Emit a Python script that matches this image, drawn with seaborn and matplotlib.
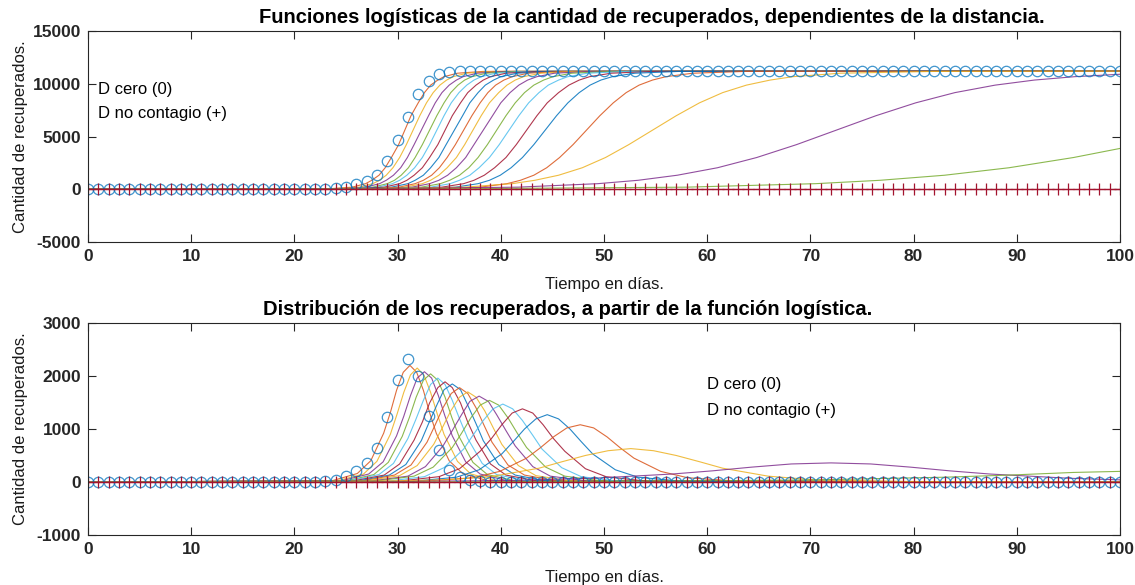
# Libraries
import matplotlib
matplotlib.use("Agg")
import seaborn as sns
import matplotlib.pyplot as plt

# -----------------------------------
# Configuration
# -----------------------------------
sns.set_theme(style="ticks")
plt.rcParams['font.family'] = ['Liberation Sans', 'DejaVu Sans']
plt.rcParams['axes.unicode_minus'] = False

# MATLAB default colour order
azul = (0.000, 0.447, 0.741)
naranja = (0.850, 0.325, 0.098)
amarillo = (0.929, 0.694, 0.125)
morado = (0.494, 0.184, 0.556)
verde = (0.466, 0.674, 0.188)
celeste = (0.301, 0.745, 0.933)
granate = (0.635, 0.078, 0.184)
orden_colores = [azul, naranja, amarillo, morado, verde, celeste, granate]

# -----------------------------------
# Data
# -----------------------------------
# Days sampled by the marker series
dias = list(range(101))

# D cero (0): recovered per day (top) and distribution (bottom)
dcero_sup = ([0] * 24 + [100, 250, 470, 790, 1360, 2650, 4640, 6890, 9000,
             10270, 10900, 11150] + [11200] * 65)
dcero_inf = ([0] * 23 + [20, 40, 110, 200, 350, 650, 1220, 1920, 2320, 2000,
             1250, 610, 230, 95, 40, 10] + [0] * 62)

# D no contagio (+): nobody recovers
dnocontagio = [0] * 101

# Logistic curves, top panel: day at which each curve reaches each level
niveles = [0, 30, 200, 530, 850, 1330, 2040, 3010, 4230, 5600, 6970, 8190,
           9160, 9870, 10350, 10670, 11000, 11170, 11200]
dias_sup = [
    [0, 23.1, 25.6, 26.9, 27.5, 28.2, 28.8, 29.4, 30.1, 30.7, 31.3, 32.0, 32.6, 33.2, 33.9, 34.5, 35.8, 38.3, 100],
    [0, 23.7, 26.3, 27.6, 28.25, 28.9, 29.55, 30.2, 30.85, 31.5, 32.15, 32.8, 33.45, 34.1, 34.75, 35.4, 36.7, 39.3, 100],
    [0, 24.2, 26.9, 28.25, 28.9, 29.6, 30.3, 30.95, 31.6, 32.3, 33.0, 33.65, 34.3, 35.0, 35.7, 36.35, 37.7, 40.4, 100],
    [0, 24.9, 27.6, 29.0, 29.7, 30.35, 31.05, 31.7, 32.4, 33.1, 33.8, 34.5, 35.15, 35.85, 36.5, 37.2, 38.6, 41.3, 100],
    [0, 25.2, 28.1, 29.5, 30.2, 30.9, 31.65, 32.4, 33.1, 33.8, 34.5, 35.2, 35.95, 36.7, 37.4, 38.1, 39.5, 42.4, 100],
    [0, 25.7, 28.7, 30.2, 30.9, 31.6, 32.4, 33.1, 33.9, 34.6, 35.3, 36.1, 36.8, 37.6, 38.3, 39.0, 40.5, 43.5, 100],
    [0, 26.4, 29.4, 31.0, 31.7, 32.5, 33.2, 34.0, 34.7, 35.5, 36.3, 37.0, 37.8, 38.5, 39.3, 40.0, 41.6, 44.6, 100],
    [0, 27.0, 30.15, 31.7, 32.5, 33.3, 34.05, 34.8, 35.6, 36.4, 37.2, 38.0, 38.75, 39.5, 40.3, 41.1, 42.65, 45.8, 100],
    [0, 27.5, 30.7, 32.4, 33.2, 34.0, 34.8, 35.7, 36.5, 37.3, 38.1, 38.9, 39.8, 40.6, 41.4, 42.2, 43.9, 47.1, 100],
    [0, 28.0, 31.4, 33.1, 34.0, 34.85, 35.7, 36.6, 37.4, 38.3, 39.2, 40.0, 40.9, 41.75, 42.6, 43.5, 45.2, 48.6, 100],
    [0, 28.7, 32.3, 34.15, 35.05, 36.0, 36.9, 37.8, 38.7, 39.6, 40.5, 41.4, 42.3, 43.2, 44.15, 45.05, 46.9, 50.5, 100],
    [0, 29.4, 33.2, 35.1, 36.0, 37.0, 37.9, 38.9, 39.85, 40.8, 41.75, 42.7, 43.7, 44.6, 45.6, 46.5, 48.4, 52.2, 100],
    [0, 30.3, 34.3, 36.4, 37.4, 38.4, 39.4, 40.5, 41.5, 42.5, 43.5, 44.5, 45.6, 46.6, 47.6, 48.6, 50.7, 54.7, 100],
    [0, 31.3, 35.6, 37.8, 38.9, 39.95, 41.0, 42.1, 43.2, 44.3, 45.4, 46.5, 47.6, 48.65, 49.7, 50.8, 53.0, 57.3, 100],
    [0, 32.9, 38.0, 40.6, 41.9, 43.2, 44.45, 45.7, 47.0, 48.3, 49.6, 50.9, 52.15, 53.4, 54.7, 56.0, 58.6, 63.7, 100],
    [0, 27.4, 36.5, 41.1, 43.3, 45.6, 47.9, 50.15, 52.4, 54.7, 57.0, 59.25, 61.5, 63.8, 66.1, 68.3, 72.9, 82.0, 100],
]
# The two slowest curves do not saturate before day 100
dias_sup_17 = [0, 26.3, 41.7, 49.4, 53.3, 57.1, 61.0, 64.8, 68.65, 72.5, 76.35, 80.2, 84.0, 87.9, 91.7, 95.6, 100]
niveles_17 = [0, 30, 200, 530, 850, 1330, 2040, 3010, 4230, 5600, 6970, 8190, 9160, 9870, 10350, 10670, 10900]
dias_sup_18 = [0, 33, 58, 70.5, 76.75, 83, 89.25, 95.5, 100]
niveles_18 = [0, 30, 200, 530, 850, 1330, 2040, 3010, 3870]

# Distribution curves, bottom panel
dias_inf = [
    [0, 23.6, 26.1, 27.4, 28.65, 29.3, 29.9, 30.55, 31.2, 31.85, 32.5, 33.1, 33.75, 35.0, 36.3, 38.8, 100],
    [0, 24.1, 26.7, 28.0, 29.3, 29.95, 30.6, 31.25, 31.9, 32.55, 33.2, 33.85, 34.5, 35.8, 37.1, 39.7, 100],
    [0, 24.5, 27.2, 28.6, 29.9, 30.6, 31.25, 31.9, 32.6, 33.3, 33.95, 34.6, 35.3, 36.6, 38.0, 40.7, 100],
    [0, 25.0, 27.7, 29.1, 30.45, 31.15, 31.8, 32.5, 33.2, 33.9, 34.6, 35.25, 35.95, 37.3, 38.7, 41.4, 100],
    [0, 25.3, 28.2, 29.6, 31.0, 31.75, 32.5, 33.2, 33.9, 34.6, 35.3, 36.05, 36.8, 38.2, 39.6, 42.5, 100],
    [0, 25.7, 28.7, 30.2, 31.6, 32.4, 33.1, 33.9, 34.6, 35.3, 36.1, 36.8, 37.6, 39.0, 40.5, 43.5, 100],
    [0, 26.2, 29.2, 30.8, 32.3, 33.0, 33.8, 34.5, 35.3, 36.1, 36.8, 37.6, 38.3, 39.8, 41.4, 44.4, 100],
    [0, 26.6, 29.7, 31.3, 32.85, 33.6, 34.4, 35.2, 36.0, 36.8, 37.6, 38.4, 39.15, 40.7, 42.3, 45.4, 100],
    [0, 26.9, 30.2, 31.9, 33.5, 34.3, 35.15, 36.0, 36.8, 37.6, 38.45, 39.3, 40.1, 41.7, 43.4, 46.7, 100],
    [0, 27.5, 31.0, 32.7, 34.4, 35.3, 36.2, 37.0, 37.9, 38.8, 39.6, 40.5, 41.4, 43.1, 44.8, 48.3, 100],
    [0, 28.0, 31.6, 33.45, 35.3, 36.2, 37.1, 38.0, 38.9, 39.8, 40.7, 41.6, 42.5, 44.35, 46.2, 49.8, 100],
    [0, 28.8, 32.6, 34.5, 36.4, 37.3, 38.3, 39.25, 40.2, 41.15, 42.1, 43.1, 44.0, 45.9, 47.8, 51.6, 100],
    [0, 29.9, 34.0, 36.0, 38.0, 39.1, 40.1, 41.1, 42.1, 43.1, 44.1, 45.1, 46.2, 48.2, 50.2, 54.3, 100],
    [0, 31.3, 35.7, 37.9, 40.1, 41.2, 42.3, 43.4, 44.5, 45.6, 46.7, 47.8, 48.9, 51.1, 53.3, 57.7, 100],
    [0, 32.1, 37.3, 39.9, 42.5, 43.8, 45.1, 46.4, 47.7, 49.0, 50.3, 51.6, 52.9, 55.5, 58.1, 63.3, 100],
    [0, 25.9, 34.8, 39.3, 43.7, 45.9, 48.2, 50.4, 52.6, 54.8, 57.0, 59.3, 61.5, 65.9, 70.4, 79.3, 100],
    [0, 25.9, 41.2, 48.9, 56.6, 60.5, 64.3, 68.15, 72.0, 75.85, 79.7, 83.5, 87.4, 95.1, 100],
    [0, 33, 58, 70.5, 83, 89.25, 95.5, 100],
]
rec_inf = [
    [0, 20, 160, 400, 920, 1310, 1730, 2070, 2200, 2070, 1730, 1310, 920, 400, 160, 20, 0],
    [0, 20, 150, 390, 900, 1280, 1690, 2020, 2150, 2020, 1690, 1280, 900, 390, 150, 20, 0],
    [0, 20, 150, 380, 870, 1240, 1630, 1960, 2080, 1960, 1630, 1240, 870, 380, 150, 20, 0],
    [0, 20, 140, 370, 860, 1220, 1600, 1920, 2040, 1920, 1600, 1220, 860, 370, 140, 20, 0],
    [0, 20, 140, 350, 820, 1170, 1540, 1840, 1960, 1840, 1540, 1170, 820, 350, 140, 20, 0],
    [0, 20, 130, 340, 790, 1130, 1490, 1780, 1890, 1780, 1490, 1130, 790, 340, 130, 20, 0],
    [0, 20, 130, 330, 780, 1100, 1450, 1740, 1850, 1740, 1450, 1100, 780, 330, 130, 20, 0],
    [0, 20, 130, 320, 750, 1060, 1400, 1670, 1780, 1670, 1400, 1060, 750, 320, 130, 20, 0],
    [0, 20, 120, 310, 710, 1010, 1340, 1600, 1700, 1600, 1340, 1010, 710, 310, 120, 20, 0],
    [0, 20, 110, 290, 680, 970, 1270, 1520, 1620, 1520, 1270, 970, 680, 290, 110, 20, 0],
    [0, 20, 110, 280, 650, 920, 1210, 1450, 1540, 1450, 1210, 920, 650, 280, 110, 20, 0],
    [0, 10, 100, 270, 620, 880, 1160, 1380, 1470, 1380, 1160, 880, 620, 270, 100, 10, 0],
    [0, 10, 100, 250, 580, 820, 1080, 1300, 1380, 1300, 1080, 820, 580, 250, 100, 10, 0],
    [0, 10, 90, 230, 530, 760, 1000, 1190, 1270, 1190, 1000, 760, 530, 230, 90, 10, 0],
    [0, 10, 80, 200, 450, 640, 850, 1020, 1080, 1020, 850, 640, 450, 200, 80, 10, 0],
    [0, 10, 40, 110, 260, 380, 500, 590, 630, 590, 500, 380, 260, 110, 40, 10, 0],
    [0, 0, 30, 70, 150, 210, 280, 340, 360, 340, 280, 210, 150, 70, 40],
    [0, 0, 20, 40, 90, 130, 180, 200],
]

# Texts
titulo_sup = "Funciones logísticas de la cantidad de recuperados, dependientes de la distancia."
titulo_inf = "Distribución de los recuperados, a partir de la función logística."
etiqueta_x = "Tiempo en días."
etiqueta_y = "Cantidad de recuperados."
leyenda = ["D cero (0)", "D no contagio (+)"]


# -----------------------------------
# Methods
# -----------------------------------
def format_axis(ax, ylim, yticks, titulo, titulo_x):
    """Give the axes the look of a MATLAB subplot."""
    ax.set_xlim(0, 100)
    ax.set_ylim(*ylim)
    ax.set_xticks(range(0, 101, 10))
    ax.set_yticks(yticks)
    ax.tick_params(direction='in', top=True, right=True, length=6, width=0.8,
                   color='#262626', labelsize=12.5, labelcolor='#262626', pad=5)
    for lab in ax.get_xticklabels() + ax.get_yticklabels():
        lab.set_fontweight('bold')
    for s in ax.spines.values():
        s.set_visible(True)
        s.set_color('#262626')
        s.set_linewidth(0.8)
    ax.set_xlabel(etiqueta_x, fontsize=12, color='#1a1a1a')
    ax.set_ylabel(etiqueta_y, fontsize=12, color='#1a1a1a')
    ax.xaxis.set_label_coords(0.5, -0.165)
    ax.yaxis.set_label_coords(-0.058, 0.5)
    ax.text(titulo_x, 1.018, titulo, transform=ax.transAxes, ha='center',
            va='bottom', fontsize=14.5, fontweight='bold', color='black')


def draw_markers(ax, serie_o, serie_mas):
    # Open circles, D cero
    sns.lineplot(x=dias, y=serie_o, ax=ax, color=azul, marker='o',
                 linestyle='none', markersize=7.5, markerfacecolor='none',
                 markeredgecolor=azul, markeredgewidth=0.9, alpha=0.75,
                 estimator=None, sort=False, errorbar=None)
    # Plus signs, D no contagio
    sns.lineplot(x=dias, y=serie_mas, ax=ax, color=granate, marker='+',
                 linewidth=0.9, markersize=9, markeredgecolor=granate,
                 markeredgewidth=0.9, estimator=None, sort=False,
                 errorbar=None)


# -----------------------------------
# Figure
# -----------------------------------
fig = plt.figure(figsize=(11.35, 5.85), dpi=100)
ax1 = fig.add_axes([0.0775, 0.5863, 0.9093, 0.3607])
ax2 = fig.add_axes([0.0775, 0.0855, 0.9093, 0.3624])

# Top: logistic functions
curvas_sup = [(d, niveles) for d in dias_sup]
curvas_sup += [(dias_sup_17, niveles_17), (dias_sup_18, niveles_18)]
for i, (x, y) in enumerate(curvas_sup, start=1):
    sns.lineplot(x=x, y=y, ax=ax1, color=orden_colores[i % 7], linewidth=0.8,
                 alpha=0.85, estimator=None, sort=False, errorbar=None)
draw_markers(ax1, dcero_sup, dnocontagio)
format_axis(ax1, (-5000, 15000), range(-5000, 15001, 5000), titulo_sup, 0.5465)
ax1.text(1, 9500, leyenda[0], fontsize=12, va='center', color='black')
ax1.text(1, 7150, leyenda[1], fontsize=12, va='center', color='black')

# Bottom: distribution of the recovered
for i, (x, y) in enumerate(zip(dias_inf, rec_inf), start=1):
    sns.lineplot(x=x, y=y, ax=ax2, color=orden_colores[i % 7], linewidth=0.8,
                 alpha=0.85, estimator=None, sort=False, errorbar=None)
draw_markers(ax2, dcero_inf, dnocontagio)
format_axis(ax2, (-1000, 3000), range(-1000, 3001, 1000), titulo_inf, 0.465)
ax2.text(60, 1840, leyenda[0], fontsize=12, va='center', color='black')
ax2.text(60, 1350, leyenda[1], fontsize=12, va='center', color='black')

# Save
fig.savefig("out.png", dpi=100)
